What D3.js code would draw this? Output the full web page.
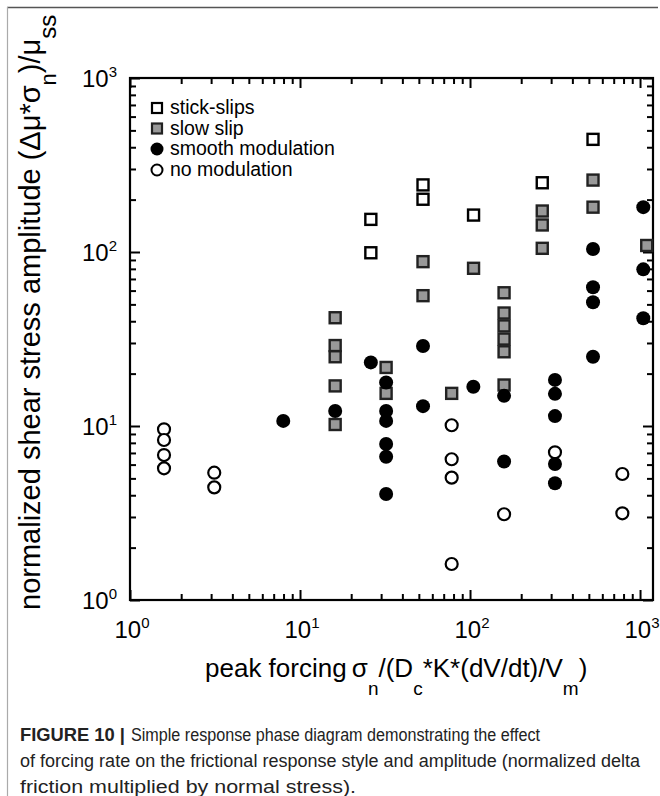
<!DOCTYPE html>
<html>
<head>
<meta charset="utf-8">
<script src="https://cdn.jsdelivr.net/npm/d3@7"></script>
<style>
  body { margin: 0; background: #fff; }
  svg { display: block; font-family: "Liberation Sans", Arial, Helvetica, sans-serif; }
</style>
</head>
<body>
<script>
// values: [forcing, amplitude]
var stickSlips = [[26.1,154],[26.1,99],[52.9,243],[52.9,201],[104.9,163],[266,250],[529,444]];
var slowSlip = [[16.1,41.9],[16.1,29.0],[16.1,25.0],[16.1,17.0],[16.1,10.2],
    [32.1,21.7],[32.1,15.4],[52.9,88],[52.9,56.1],[78,15.4],[104.9,80.6],
    [158.6,58.3],[158.6,44.6],[158.6,37.6],[158.6,31.6],[158.6,26.7],[158.6,17.2],
    [266,172],[266,143],[266,105],[529,259],[529,181],[1095,109]];
var smoothMod = [[7.97,10.7],[16.1,12.2],[26.1,23.2],
    [32.1,17.8],[32.1,12.2],[32.1,10.7],[32.1,7.88],[32.1,6.66],[32.1,4.07],
    [52.9,28.8],[52.9,13.0],[104.6,16.8],[158.6,14.9],[158.6,6.25],
    [316,18.4],[316,15.3],[316,11.4],[316,6.05],[316,4.69],
    [529,104],[529,62.7],[529,51.4],[529,25.0],[1045,181],[1045,79.5],[1045,41.6]];
var noMod = [[1.585,9.57],[1.585,8.31],[1.585,6.81],[1.585,5.71],[3.13,5.39],[3.13,4.44],
    [78,10.1],[78,6.44],[78,5.05],[78,1.61],[158.6,3.11],[316,7.06],[787,5.30],[787,3.15]];

var xDecades = [0, 1, 2, 3];   // 10^0 .. 10^3
var yDecades = [0, 1, 2, 3];
var legendNames = ["stick-slips", "slow slip", "smooth modulation", "no modulation"];
var captionLines = [
  "Simple response phase diagram demonstrating the effect",
  "of forcing rate on the frictional response style and amplitude (normalized delta",
  "friction multiplied by normal stress)."
];

var W = 660, H = 796;
var pLeft = 130, pRight = 653, pTop = 78, pBottom = 600;

var svg = d3.select("body").append("svg")
    .attr("width", W)
    .attr("height", H);

// figure border lines
svg.append("line").attr("x1", 7).attr("x2", 658).attr("y1", 7.5).attr("y2", 7.5)
    .attr("stroke", "#555").attr("stroke-width", 1.5);
svg.append("line").attr("x1", 7.5).attr("x2", 7.5).attr("y1", 7).attr("y2", H)
    .attr("stroke", "#aaa").attr("stroke-width", 1.2);

var x = d3.scaleLog().domain([1, 1192]).range([pLeft, pRight]);
var y = d3.scaleLog().domain([1, 1000]).range([pBottom, pTop]);

// major / minor tick values
var xMajor = xDecades.map(function(d) { return Math.pow(10, d); });
var yMajor = yDecades.map(function(d) { return Math.pow(10, d); });
function minors(maxV) {
    var out = [];
    for (var p = 0; p < 4; p++)
        for (var m = 2; m <= 9; m++) {
            var v = m * Math.pow(10, p);
            if (v <= maxV) out.push(v);
        }
    return out;
}
var xMinor = minors(1192), yMinor = minors(1000);

function addAxis(gen, tx, ty) {
    var g = svg.append("g")
        .attr("transform", "translate(" + tx + "," + ty + ")")
        .call(gen);
    g.select(".domain").remove();
    g.selectAll(".tick line").attr("stroke", "#000").attr("stroke-width", 2);
    return g;
}
// bottom & top
addAxis(d3.axisBottom(x).tickValues(xMajor).tickSize(-10).tickFormat(""), 0, pBottom);
addAxis(d3.axisBottom(x).tickValues(xMinor).tickSize(-6).tickFormat(""), 0, pBottom);
addAxis(d3.axisTop(x).tickValues(xMajor).tickSize(-10).tickFormat(""), 0, pTop);
addAxis(d3.axisTop(x).tickValues(xMinor).tickSize(-6).tickFormat(""), 0, pTop);
// left & right
addAxis(d3.axisLeft(y).tickValues(yMajor).tickSize(-10).tickFormat(""), pLeft, 0);
addAxis(d3.axisLeft(y).tickValues(yMinor).tickSize(-6).tickFormat(""), pLeft, 0);
addAxis(d3.axisRight(y).tickValues(yMajor).tickSize(-10).tickFormat(""), pRight, 0);
addAxis(d3.axisRight(y).tickValues(yMinor).tickSize(-6).tickFormat(""), pRight, 0);

// frame
svg.append("rect")
    .attr("x", pLeft).attr("y", pTop)
    .attr("width", pRight - pLeft).attr("height", pBottom - pTop)
    .attr("fill", "none").attr("stroke", "#000").attr("stroke-width", 2.2);

// tick labels 10^n
svg.selectAll(".xlab").data(xDecades).enter().append("text")
    .attr("class", "xlab")
    .attr("x", function(d) { return x(Math.pow(10, d)) + 2; })
    .attr("y", 638)
    .attr("text-anchor", "middle")
    .attr("font-size", 24)
    .each(function(d) {
        var t = d3.select(this);
        t.append("tspan").text("10");
        t.append("tspan").attr("dy", -10).attr("font-size", 15).text(d);
    });

svg.selectAll(".ylab").data(yDecades).enter().append("text")
    .attr("class", "ylab")
    .attr("x", 117)
    .attr("y", function(d) { return y(Math.pow(10, d)) + 9; })
    .attr("text-anchor", "end")
    .attr("font-size", 24)
    .each(function(d) {
        var t = d3.select(this);
        t.append("tspan").text("10");
        t.append("tspan").attr("dy", -10).attr("font-size", 15).text(d);
    });

// x title
var xt = svg.append("text")
    .attr("x", 205).attr("y", 677)
    .attr("font-size", 26);
xt.append("tspan").text("peak forcing\u2009\u03c3");
xt.append("tspan").attr("dy", 18).attr("font-size", 19).text("n");
xt.append("tspan").attr("dy", -18).text("/(D");
xt.append("tspan").attr("dy", 18).attr("font-size", 19).text("c");
xt.append("tspan").attr("dy", -18).text("*K*(dV/dt)/V");
xt.append("tspan").attr("dy", 18).attr("font-size", 19).text("m");
xt.append("tspan").attr("dy", -18).text(")");

// y title (rotated)
var yt = svg.append("text")
    .attr("transform", "translate(40,610) rotate(-90)")
    .attr("font-size", 29);
yt.append("tspan").text("normalized shear stress amplitude (\u0394\u03bc*\u03c3");
yt.append("tspan").attr("dy", 16).attr("font-size", 22).text("n");
yt.append("tspan").attr("dy", -16).text(")/\u03bc");
yt.append("tspan").attr("dy", 16).attr("font-size", 24).text("ss");

// markers
var plot = svg.append("g");
plot.selectAll(".stick").data(stickSlips).enter().append("rect")
    .attr("class", "stick")
    .attr("x", function(d) { return x(d[0]) - 5.5; })
    .attr("y", function(d) { return y(d[1]) - 5.5; })
    .attr("width", 11).attr("height", 11)
    .attr("fill", "#fff").attr("stroke", "#000").attr("stroke-width", 2.4);

plot.selectAll(".slow").data(slowSlip).enter().append("rect")
    .attr("class", "slow")
    .attr("x", function(d) { return x(d[0]) - 5.5; })
    .attr("y", function(d) { return y(d[1]) - 5.5; })
    .attr("width", 11).attr("height", 11)
    .attr("fill", "#999").attr("stroke", "#222").attr("stroke-width", 2.4);

plot.selectAll(".nomod").data(noMod).enter().append("circle")
    .attr("class", "nomod")
    .attr("cx", function(d) { return x(d[0]); })
    .attr("cy", function(d) { return y(d[1]); })
    .attr("r", 6)
    .attr("fill", "#fff").attr("stroke", "#000").attr("stroke-width", 2.2);

plot.selectAll(".smooth").data(smoothMod).enter().append("circle")
    .attr("class", "smooth")
    .attr("cx", function(d) { return x(d[0]); })
    .attr("cy", function(d) { return y(d[1]); })
    .attr("r", 7)
    .attr("fill", "#000");

// legend
var legY = [108, 128.5, 149, 170];
var lg = svg.append("g");
lg.append("rect").attr("x", 152).attr("y", legY[0] - 5).attr("width", 10).attr("height", 10)
    .attr("fill", "#fff").attr("stroke", "#000").attr("stroke-width", 2.2);
lg.append("rect").attr("x", 152).attr("y", legY[1] - 5).attr("width", 10).attr("height", 10)
    .attr("fill", "#999").attr("stroke", "#222").attr("stroke-width", 2.2);
lg.append("circle").attr("cx", 157).attr("cy", legY[2]).attr("r", 6.5).attr("fill", "#000");
lg.append("circle").attr("cx", 157).attr("cy", legY[3]).attr("r", 5.5)
    .attr("fill", "#fff").attr("stroke", "#000").attr("stroke-width", 2);
lg.selectAll(".legtext").data(legendNames).enter().append("text")
    .attr("class", "legtext")
    .attr("x", 170)
    .attr("y", function(d, i) { return legY[i] + 6; })
    .attr("font-size", 19.5)
    .text(function(d) { return d; });

// caption (reference font is condensed, so fit each line to its width)
var cap = svg.append("g").attr("font-size", 17.5).attr("fill", "#222");
cap.append("text").attr("x", 20).attr("y", 741)
    .attr("font-weight", "bold")
    .attr("textLength", 105).attr("lengthAdjust", "spacingAndGlyphs")
    .text("FIGURE 10 |");
cap.append("text").attr("x", 131).attr("y", 741)
    .attr("textLength", 409).attr("lengthAdjust", "spacingAndGlyphs")
    .text(captionLines[0]);
cap.append("text").attr("x", 20).attr("y", 767)
    .attr("textLength", 620).attr("lengthAdjust", "spacingAndGlyphs")
    .text(captionLines[1]);
cap.append("text").attr("x", 20).attr("y", 793)
    .attr("textLength", 336).attr("lengthAdjust", "spacingAndGlyphs")
    .text(captionLines[2]);
</script>
</body>
</html>
